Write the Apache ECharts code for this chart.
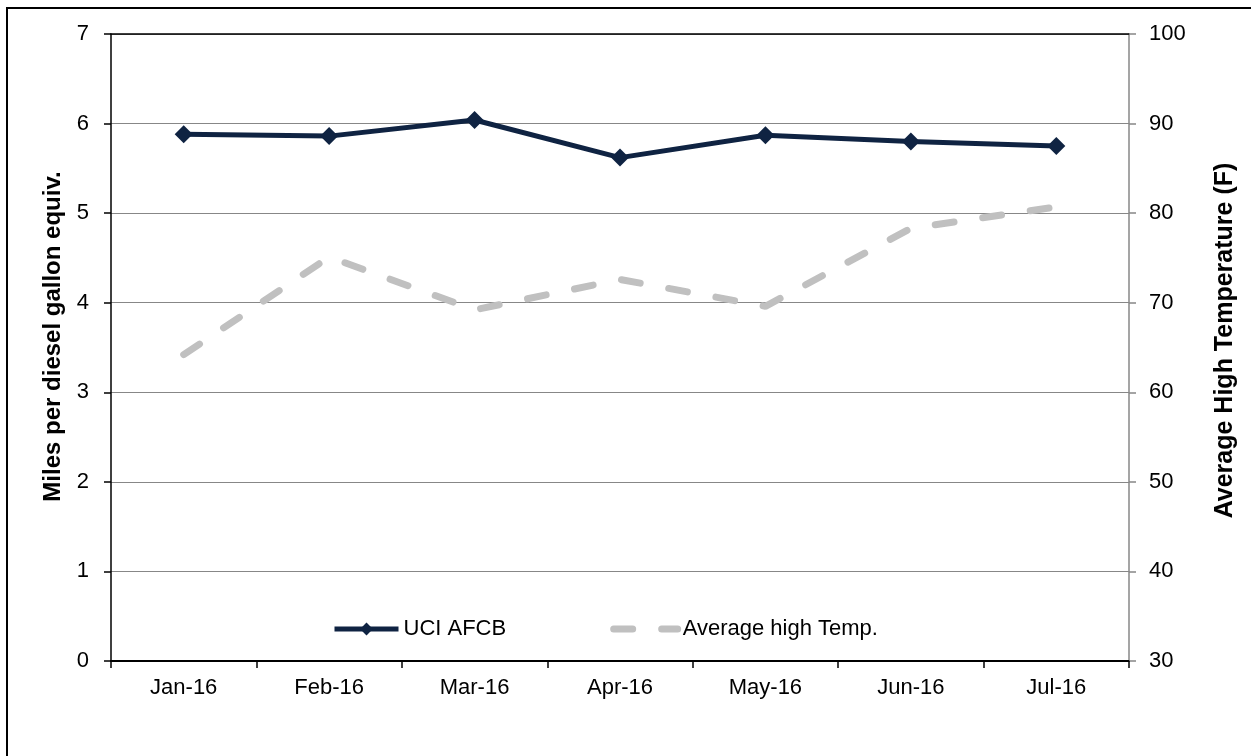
<!DOCTYPE html>
<html>
<head>
<meta charset="utf-8">
<script src="https://cdn.jsdelivr.net/npm/echarts@6/dist/echarts.min.js"></script>
<style>
  html, body { margin: 0; padding: 0; background: #fff; }
  #chart { width: 1251px; height: 756px; }
</style>
</head>
<body>
<div id="chart"></div>
<script>
// months on the x axis
const months = ["Jan-16", "Feb-16", "Mar-16", "Apr-16", "May-16", "Jun-16", "Jul-16"];
// miles per diesel gallon equiv. (left axis)
const uciAfcb = [5.88, 5.86, 6.04, 5.62, 5.87, 5.80, 5.75];
// average high temperature, F (right axis)
const avgHighTemp = [64.2, 75.1, 69.2, 72.6, 69.6, 78.3, 80.7];

const chart = echarts.init(document.getElementById("chart"));
const font = "Liberation Sans, Arial, sans-serif";
const tempDash = { color: "#c0c0c0", width: 7, type: [19, 29], cap: "round" };

chart.setOption({
  animation: false,
  textStyle: { fontFamily: font },
  // outer frame (only top and left edges visible)
  graphic: [{
    type: "rect",
    shape: { x: 7, y: 8, width: 1300, height: 800 },
    style: { fill: "none", stroke: "#000", lineWidth: 2 },
    silent: true
  }],
  grid: { left: 111, right: 122, top: 34, bottom: 95 },
  legend: {
    left: 327,
    top: 613,
    itemWidth: 64,
    itemHeight: 16,
    itemGap: 104,
    textStyle: { fontSize: 22, color: "#000", fontFamily: font },
    data: [
      { name: "UCI AFCB", lineStyle: { width: 5 } },
      { name: "Average high Temp.", itemStyle: { opacity: 0 }, lineStyle: tempDash }
    ]
  },
  xAxis: [
    {
      type: "category",
      data: months,
      boundaryGap: true,
      axisLine: { lineStyle: { color: "#000", width: 2 } },
      axisTick: { show: true, length: 7, lineStyle: { color: "#000", width: 1.5 } },
      axisLabel: { fontSize: 22, color: "#000", margin: 16 },
      splitLine: { show: false }
    },
    {
      type: "category",
      data: months,
      position: "top",
      axisLine: { show: true, lineStyle: { color: "#000", width: 1.5 } },
      axisTick: { show: false },
      axisLabel: { show: false },
      splitLine: { show: false }
    }
  ],
  yAxis: [
    {
      type: "value",
      min: 0,
      max: 7,
      interval: 1,
      name: "Miles per diesel gallon equiv.",
      nameLocation: "middle",
      nameGap: 46,
      nameMoveOverlap: false,
      nameTextStyle: { fontSize: 24, fontWeight: "bold", color: "#000", padding: [0, 0, 0, 22] },
      axisLine: { show: true, lineStyle: { color: "#000", width: 1.5 } },
      axisTick: { show: true, length: 7, lineStyle: { color: "#000", width: 1.5 } },
      axisLabel: { fontSize: 22, color: "#000", margin: 22 },
      splitLine: { show: true, lineStyle: { color: "#878787", width: 1.2 } }
    },
    {
      type: "value",
      min: 30,
      max: 100,
      interval: 10,
      position: "right",
      name: "Average High Temperature (F)",
      nameLocation: "middle",
      nameGap: 84,
      nameMoveOverlap: false,
      nameRotate: 90,
      nameTextStyle: { fontSize: 25, fontWeight: "bold", color: "#000", padding: [0, 0, 0, 14] },
      axisLine: { show: true, lineStyle: { color: "#878787", width: 1.5 } },
      axisTick: { show: true, length: 7, lineStyle: { color: "#878787", width: 1.5 } },
      axisLabel: { fontSize: 22, color: "#000", margin: 20 },
      splitLine: { show: false }
    }
  ],
  series: [
    {
      name: "UCI AFCB",
      type: "line",
      yAxisIndex: 0,
      data: uciAfcb,
      symbol: "diamond",
      symbolSize: 18,
      itemStyle: { color: "#0f2342" },
      lineStyle: { color: "#0f2342", width: 5 },
      z: 3
    },
    {
      name: "Average high Temp.",
      type: "line",
      yAxisIndex: 1,
      data: avgHighTemp,
      symbol: "none",
      itemStyle: { color: "#c0c0c0" },
      lineStyle: tempDash,
      z: 2
    }
  ]
});
</script>
</body>
</html>
